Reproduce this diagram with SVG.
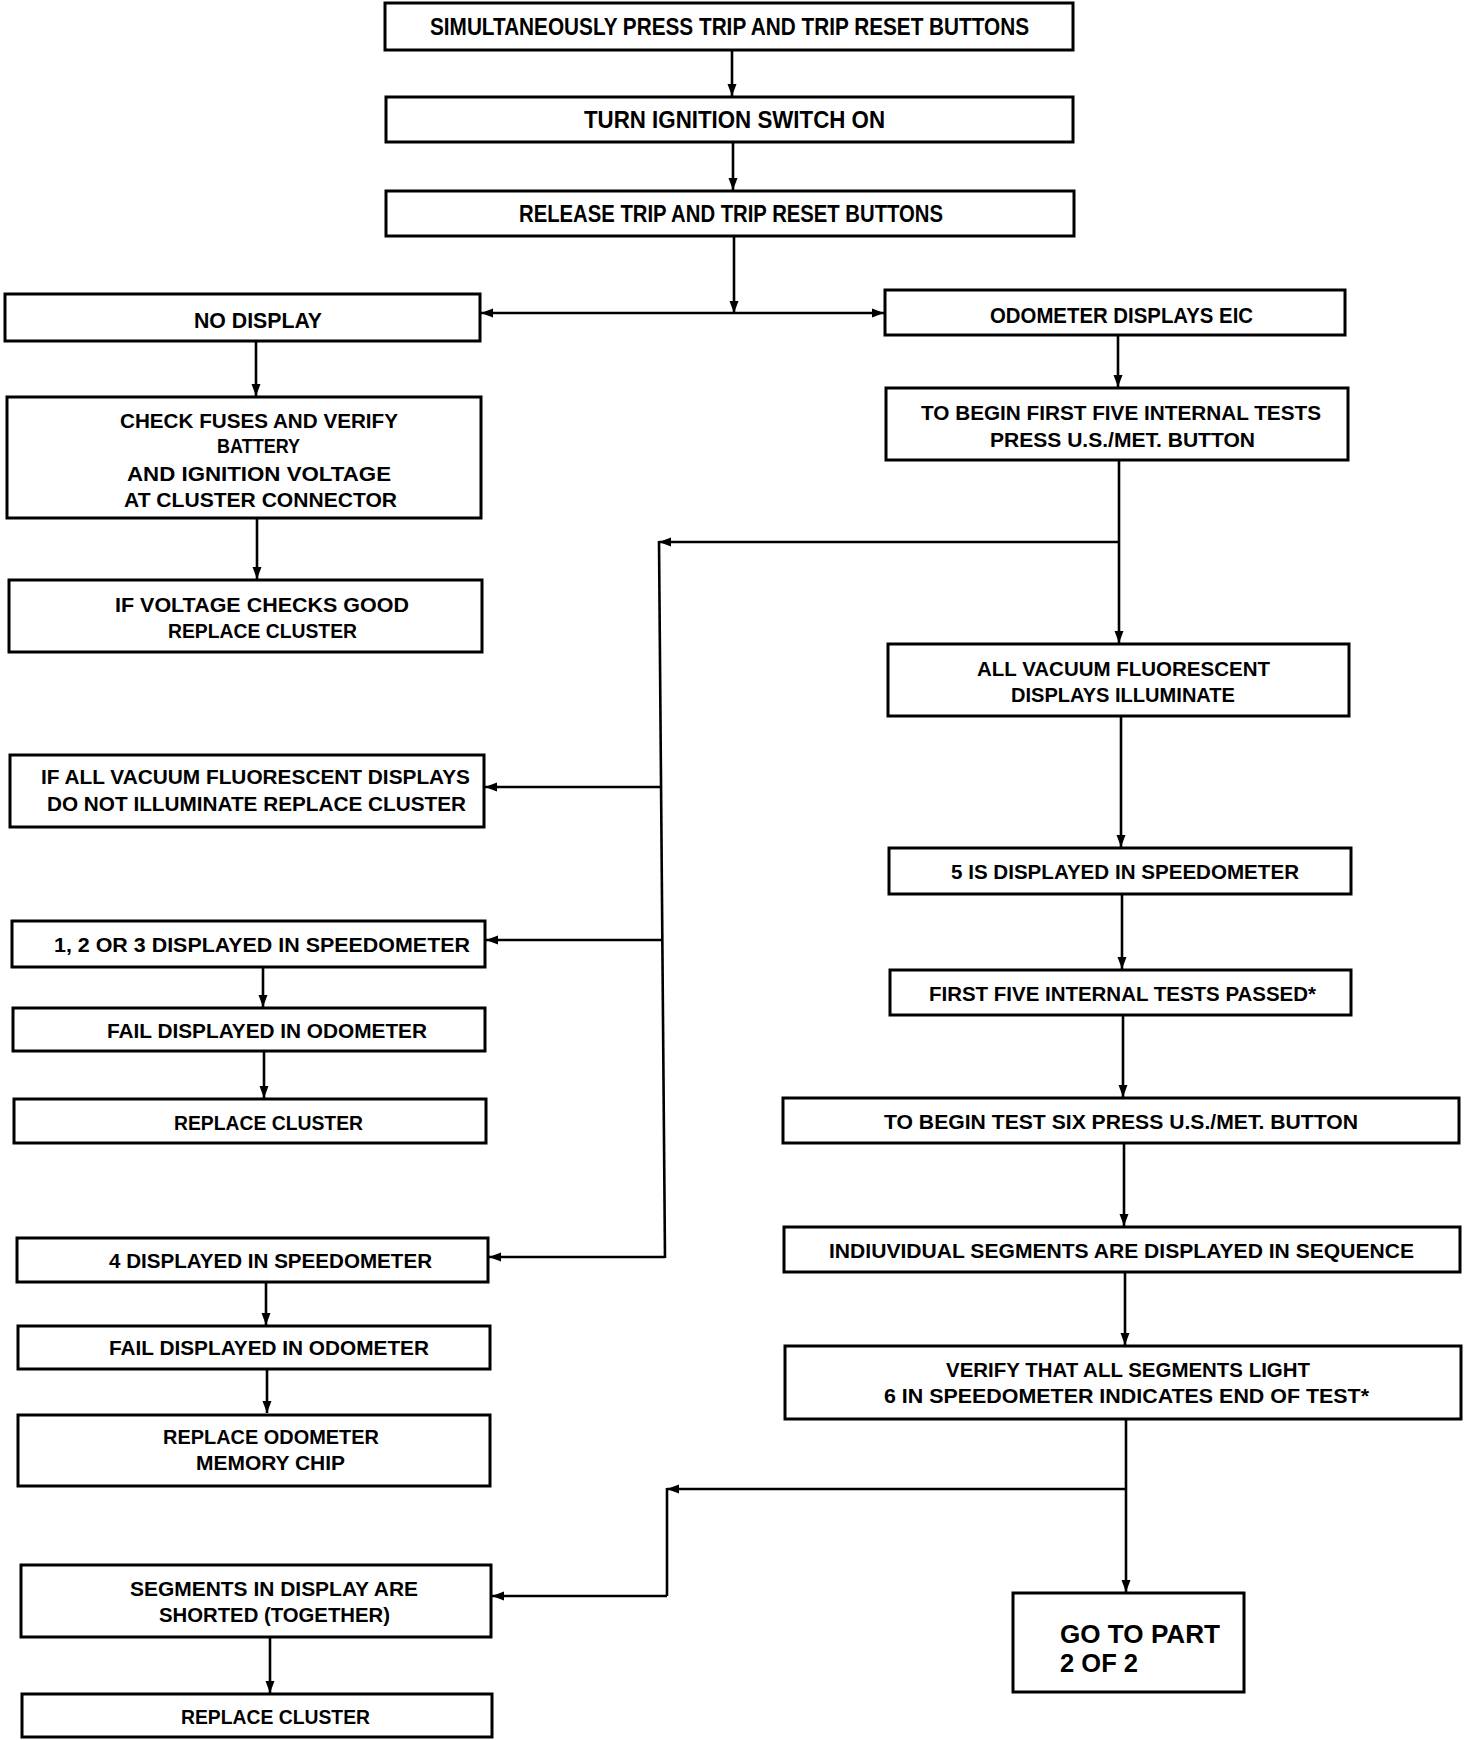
<svg xmlns="http://www.w3.org/2000/svg" width="1472" height="1740" viewBox="0 0 1472 1740">
<style>
.box{fill:#fff;stroke:#000;stroke-width:3}
.t{font-family:"Liberation Sans",Arial,sans-serif;font-weight:bold;font-size:21px;text-anchor:middle;fill:#000}
.big{font-size:23px}
.mid{font-size:22px}
.go{font-family:"Liberation Sans",Arial,sans-serif;font-weight:bold;font-size:25px;fill:#000}
.c{fill:none;stroke:#000;stroke-width:2.6}
</style>
<defs>
<marker id="ah" markerUnits="userSpaceOnUse" markerWidth="13" markerHeight="10" refX="12" refY="5" orient="auto">
<path d="M0,0.5 L12,5 L0,9.5 z" fill="#000"/>
</marker>
</defs>
<rect width="1472" height="1740" fill="#fff"/>
<g id="connectors">
<line class="c" x1="732" y1="50" x2="732" y2="96" marker-end="url(#ah)"/>
<line class="c" x1="733" y1="142" x2="733" y2="190" marker-end="url(#ah)"/>
<line class="c" x1="734" y1="236" x2="734" y2="313" marker-end="url(#ah)"/>
<line class="c" x1="734" y1="313" x2="481" y2="313" marker-end="url(#ah)"/>
<line class="c" x1="734" y1="313" x2="884" y2="313" marker-end="url(#ah)"/>
<line class="c" x1="256" y1="341" x2="256" y2="396" marker-end="url(#ah)"/>
<line class="c" x1="257" y1="518" x2="257" y2="579" marker-end="url(#ah)"/>
<line class="c" x1="1118" y1="335" x2="1118" y2="387" marker-end="url(#ah)"/>
<line class="c" x1="1119" y1="460" x2="1119" y2="643" marker-end="url(#ah)"/>
<line class="c" x1="1119" y1="542" x2="659" y2="542" marker-end="url(#ah)"/>
<line class="c" x1="659" y1="541" x2="665" y2="1258"/>
<line class="c" x1="661" y1="787" x2="485" y2="787" marker-end="url(#ah)"/>
<line class="c" x1="662" y1="940" x2="486" y2="940" marker-end="url(#ah)"/>
<line class="c" x1="665" y1="1257" x2="489" y2="1257" marker-end="url(#ah)"/>
<line class="c" x1="1121" y1="716" x2="1121" y2="847" marker-end="url(#ah)"/>
<line class="c" x1="1122" y1="894" x2="1122" y2="969" marker-end="url(#ah)"/>
<line class="c" x1="1123" y1="1015" x2="1123" y2="1097" marker-end="url(#ah)"/>
<line class="c" x1="1124" y1="1143" x2="1124" y2="1226" marker-end="url(#ah)"/>
<line class="c" x1="1125" y1="1272" x2="1125" y2="1345" marker-end="url(#ah)"/>
<line class="c" x1="1126" y1="1419" x2="1126" y2="1592" marker-end="url(#ah)"/>
<line class="c" x1="1126" y1="1489" x2="667" y2="1489" marker-end="url(#ah)"/>
<polyline class="c" points="667,1488 667,1596"/>
<line class="c" x1="667" y1="1596" x2="492" y2="1596" marker-end="url(#ah)"/>
<line class="c" x1="263" y1="967" x2="263" y2="1007" marker-end="url(#ah)"/>
<line class="c" x1="264" y1="1051" x2="264" y2="1098" marker-end="url(#ah)"/>
<line class="c" x1="266" y1="1282" x2="266" y2="1325" marker-end="url(#ah)"/>
<line class="c" x1="267" y1="1369" x2="267" y2="1413" marker-end="url(#ah)"/>
<line class="c" x1="270" y1="1637" x2="270" y2="1693" marker-end="url(#ah)"/>
</g>
<g id="n1"><rect class="box" x="385" y="3" width="688" height="47"/><text class="t big" x="729.5" y="35" textLength="599" lengthAdjust="spacingAndGlyphs">SIMULTANEOUSLY PRESS TRIP AND  TRIP RESET BUTTONS</text></g>
<g id="n2"><rect class="box" x="386" y="97" width="687" height="45"/><text class="t big" x="734.5" y="128" textLength="301" lengthAdjust="spacingAndGlyphs">TURN IGNITION SWITCH ON</text></g>
<g id="n3"><rect class="box" x="386" y="191" width="688" height="45"/><text class="t big" x="731" y="222" textLength="424" lengthAdjust="spacingAndGlyphs">RELEASE TRIP AND TRIP RESET  BUTTONS</text></g>
<g id="n4"><rect class="box" x="5" y="294" width="475" height="47"/><text class="t mid" x="258" y="328" textLength="128" lengthAdjust="spacingAndGlyphs">NO DISPLAY</text></g>
<g id="n5"><rect class="box" x="885" y="290" width="460" height="45"/><text class="t mid" x="1121.5" y="323" textLength="263" lengthAdjust="spacingAndGlyphs">ODOMETER DISPLAYS EIC</text></g>
<g id="n6"><rect class="box" x="7" y="397" width="474" height="121"/>
<text class="t" x="259" y="428" textLength="278" lengthAdjust="spacingAndGlyphs">CHECK FUSES AND VERIFY</text>
<text class="t" x="258.5" y="453" textLength="83" lengthAdjust="spacingAndGlyphs">BATTERY</text>
<text class="t" x="259" y="481" textLength="264" lengthAdjust="spacingAndGlyphs">AND IGNITION VOLTAGE</text>
<text class="t" x="260.5" y="507" textLength="273" lengthAdjust="spacingAndGlyphs">AT CLUSTER CONNECTOR</text></g>
<g id="n7"><rect class="box" x="886" y="388" width="462" height="72"/>
<text class="t" x="1121" y="420" textLength="400" lengthAdjust="spacingAndGlyphs">TO BEGIN FIRST FIVE INTERNAL  TESTS</text>
<text class="t" x="1122.5" y="447" textLength="265" lengthAdjust="spacingAndGlyphs">PRESS U.S./MET. BUTTON</text></g>
<g id="n8"><rect class="box" x="9" y="580" width="473" height="72"/>
<text class="t" x="262" y="612" textLength="294" lengthAdjust="spacingAndGlyphs">IF VOLTAGE CHECKS GOOD</text>
<text class="t" x="262.5" y="638" textLength="189" lengthAdjust="spacingAndGlyphs">REPLACE CLUSTER</text></g>
<g id="n9"><rect class="box" x="888" y="644" width="461" height="72"/>
<text class="t" x="1123.5" y="676" textLength="293" lengthAdjust="spacingAndGlyphs">ALL VACUUM FLUORESCENT</text>
<text class="t" x="1123" y="702" textLength="224" lengthAdjust="spacingAndGlyphs">DISPLAYS ILLUMINATE</text></g>
<g id="n10"><rect class="box" x="10" y="755" width="474" height="72"/>
<text class="t" x="255.5" y="784" textLength="429" lengthAdjust="spacingAndGlyphs">IF ALL VACUUM FLUORESCENT  DISPLAYS</text>
<text class="t" x="256.5" y="811" textLength="419" lengthAdjust="spacingAndGlyphs">DO NOT ILLUMINATE REPLACE CLUSTER</text></g>
<g id="n11"><rect class="box" x="889" y="848" width="462" height="46"/><text class="t" x="1125" y="879" textLength="348" lengthAdjust="spacingAndGlyphs">5 IS DISPLAYED IN SPEEDOMETER</text></g>
<g id="n12"><rect class="box" x="12" y="921" width="473" height="46"/><text class="t" x="262" y="952" textLength="416" lengthAdjust="spacingAndGlyphs">1, 2 OR 3 DISPLAYED IN  SPEEDOMETER</text></g>
<g id="n13"><rect class="box" x="890" y="970" width="461" height="45"/><text class="t" x="1122.5" y="1001" textLength="387" lengthAdjust="spacingAndGlyphs">FIRST FIVE INTERNAL TESTS  PASSED*</text></g>
<g id="n14"><rect class="box" x="13" y="1008" width="472" height="43"/><text class="t" x="267" y="1038" textLength="320" lengthAdjust="spacingAndGlyphs">FAIL DISPLAYED IN ODOMETER</text></g>
<g id="n15"><rect class="box" x="14" y="1099" width="472" height="44"/><text class="t" x="268.5" y="1130" textLength="189" lengthAdjust="spacingAndGlyphs">REPLACE CLUSTER</text></g>
<g id="n16"><rect class="box" x="783" y="1098" width="676" height="45"/><text class="t" x="1121" y="1129" textLength="474" lengthAdjust="spacingAndGlyphs">TO BEGIN TEST SIX PRESS U.S./MET. BUTTON</text></g>
<g id="n17"><rect class="box" x="784" y="1227" width="676" height="45"/><text class="t" x="1121.5" y="1258" textLength="585" lengthAdjust="spacingAndGlyphs">INDIUVIDUAL SEGMENTS ARE DISPLAYED IN SEQUENCE</text></g>
<g id="n18"><rect class="box" x="17" y="1238" width="471" height="44"/><text class="t" x="270.5" y="1268" textLength="323" lengthAdjust="spacingAndGlyphs">4 DISPLAYED IN SPEEDOMETER</text></g>
<g id="n19"><rect class="box" x="18" y="1326" width="472" height="43"/><text class="t" x="269" y="1355" textLength="320" lengthAdjust="spacingAndGlyphs">FAIL DISPLAYED IN ODOMETER</text></g>
<g id="n20"><rect class="box" x="785" y="1346" width="676" height="73"/>
<text class="t" x="1128" y="1377" textLength="364" lengthAdjust="spacingAndGlyphs">VERIFY THAT ALL SEGMENTS LIGHT</text>
<text class="t" x="1126.5" y="1403" textLength="485" lengthAdjust="spacingAndGlyphs">6 IN SPEEDOMETER INDICATES  END OF TEST*</text></g>
<g id="n21"><rect class="box" x="18" y="1415" width="472" height="71"/>
<text class="t" x="271" y="1444" textLength="216" lengthAdjust="spacingAndGlyphs">REPLACE ODOMETER</text>
<text class="t" x="270.5" y="1470" textLength="149" lengthAdjust="spacingAndGlyphs">MEMORY CHIP</text></g>
<g id="n22"><rect class="box" x="21" y="1565" width="470" height="72"/>
<text class="t" x="274" y="1596" textLength="288" lengthAdjust="spacingAndGlyphs">SEGMENTS IN DISPLAY ARE</text>
<text class="t" x="274.5" y="1622" textLength="231" lengthAdjust="spacingAndGlyphs">SHORTED (TOGETHER)</text></g>
<g id="n23"><rect class="box" x="1013" y="1593" width="231" height="99"/>
<text class="go" x="1060" y="1643" textLength="160" lengthAdjust="spacingAndGlyphs">GO TO PART</text>
<text class="go" x="1060" y="1672" textLength="78" lengthAdjust="spacingAndGlyphs">2 OF 2</text></g>
<g id="n24"><rect class="box" x="22" y="1694" width="470" height="43"/><text class="t" x="275.5" y="1724" textLength="189" lengthAdjust="spacingAndGlyphs">REPLACE CLUSTER</text></g>
</svg>
